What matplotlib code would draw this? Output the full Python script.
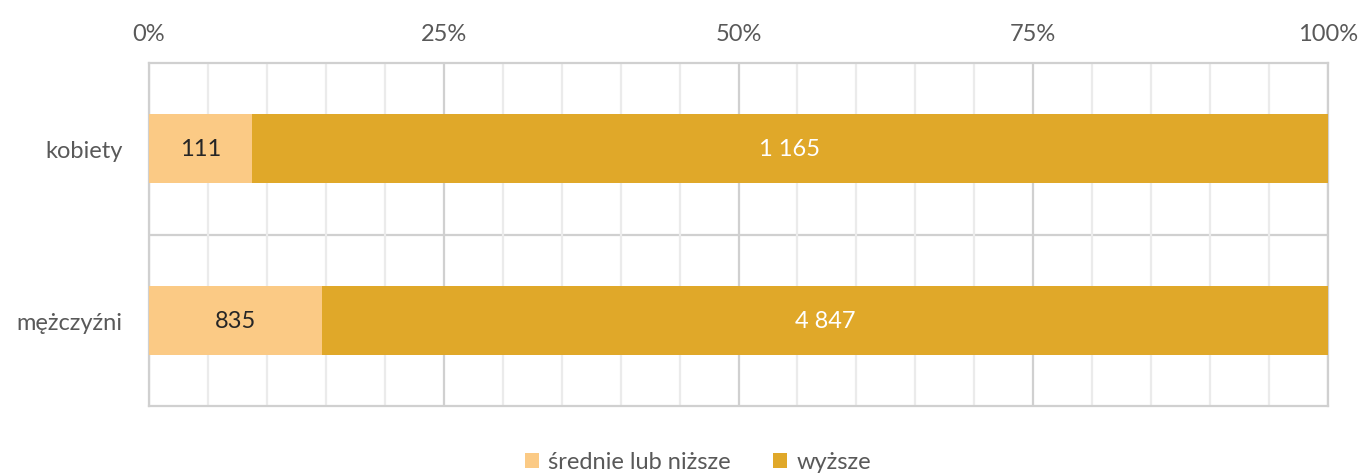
import numpy as np
import matplotlib.pyplot as plt
from matplotlib.ticker import MultipleLocator, PercentFormatter

categories = ["mężczyźni", "kobiety"]
lower = [835, 111]
higher = [4847, 1165]
series_names = ["średnie lub niższe", "wyższe"]

colors = ["#FBCA85", "#E0A829"]
text_gray = "#595959"

plt.rcParams["font.family"] = ["Lato", "DejaVu Sans"]

lower = np.array(lower, dtype=float)
higher = np.array(higher, dtype=float)
total = lower + higher
p_low = lower / total * 100
p_high = higher / total * 100

fig = plt.figure(figsize=(13.62, 4.77), dpi=100)
ax = fig.add_axes([149 / 1362, 1 - 407 / 477, (1328 - 149) / 1362, (407 - 64) / 477])

y = np.arange(len(categories))
h = 0.4
ax.barh(y, p_low, height=h, color=colors[0], label=series_names[0], zorder=3)
ax.barh(y, p_high, left=p_low, height=h, color=colors[1], label=series_names[1], zorder=3)

for i in range(len(categories)):
    ax.text(p_low[i] / 2, y[i], f"{int(lower[i]):,}".replace(",", " "),
            ha="center", va="center", fontsize=17, color="#262626", zorder=4)
    ax.text(p_low[i] + p_high[i] / 2, y[i], f"{int(higher[i]):,}".replace(",", " "),
            ha="center", va="center", fontsize=17, color="white", zorder=4)

ax.set_xlim(0, 100)
ax.set_ylim(-0.5, 1.5)
ax.xaxis.set_major_locator(MultipleLocator(25))
ax.xaxis.set_minor_locator(MultipleLocator(5))
ax.xaxis.set_major_formatter(PercentFormatter(decimals=0))
ax.xaxis.tick_top()
ax.grid(axis="x", which="major", color="#D0D0D0", linewidth=1.6, zorder=0)
ax.grid(axis="x", which="minor", color="#EBEBEB", linewidth=1.6, zorder=0)
ax.axhline(0.5, color="#D0D0D0", linewidth=1.6, zorder=1)

ax.set_yticks(y)
ax.set_yticklabels(categories)
ax.tick_params(axis="both", which="both", length=0, labelsize=17, colors=text_gray)
ax.tick_params(axis="x", pad=14)
ax.tick_params(axis="y", pad=19)
for s in ax.spines.values():
    s.set_color("#D0D0D0")
    s.set_linewidth(1.6)

leg = fig.legend(loc="center", bbox_to_anchor=(0.5 + 17 / 1362, 1 - 463 / 477), ncol=2,
                 frameon=False, fontsize=17, handlelength=0.6, handleheight=0.6,
                 handletextpad=0.4, columnspacing=1.8)
for t in leg.get_texts():
    t.set_color(text_gray)

fig.savefig("out.png", dpi=100)
